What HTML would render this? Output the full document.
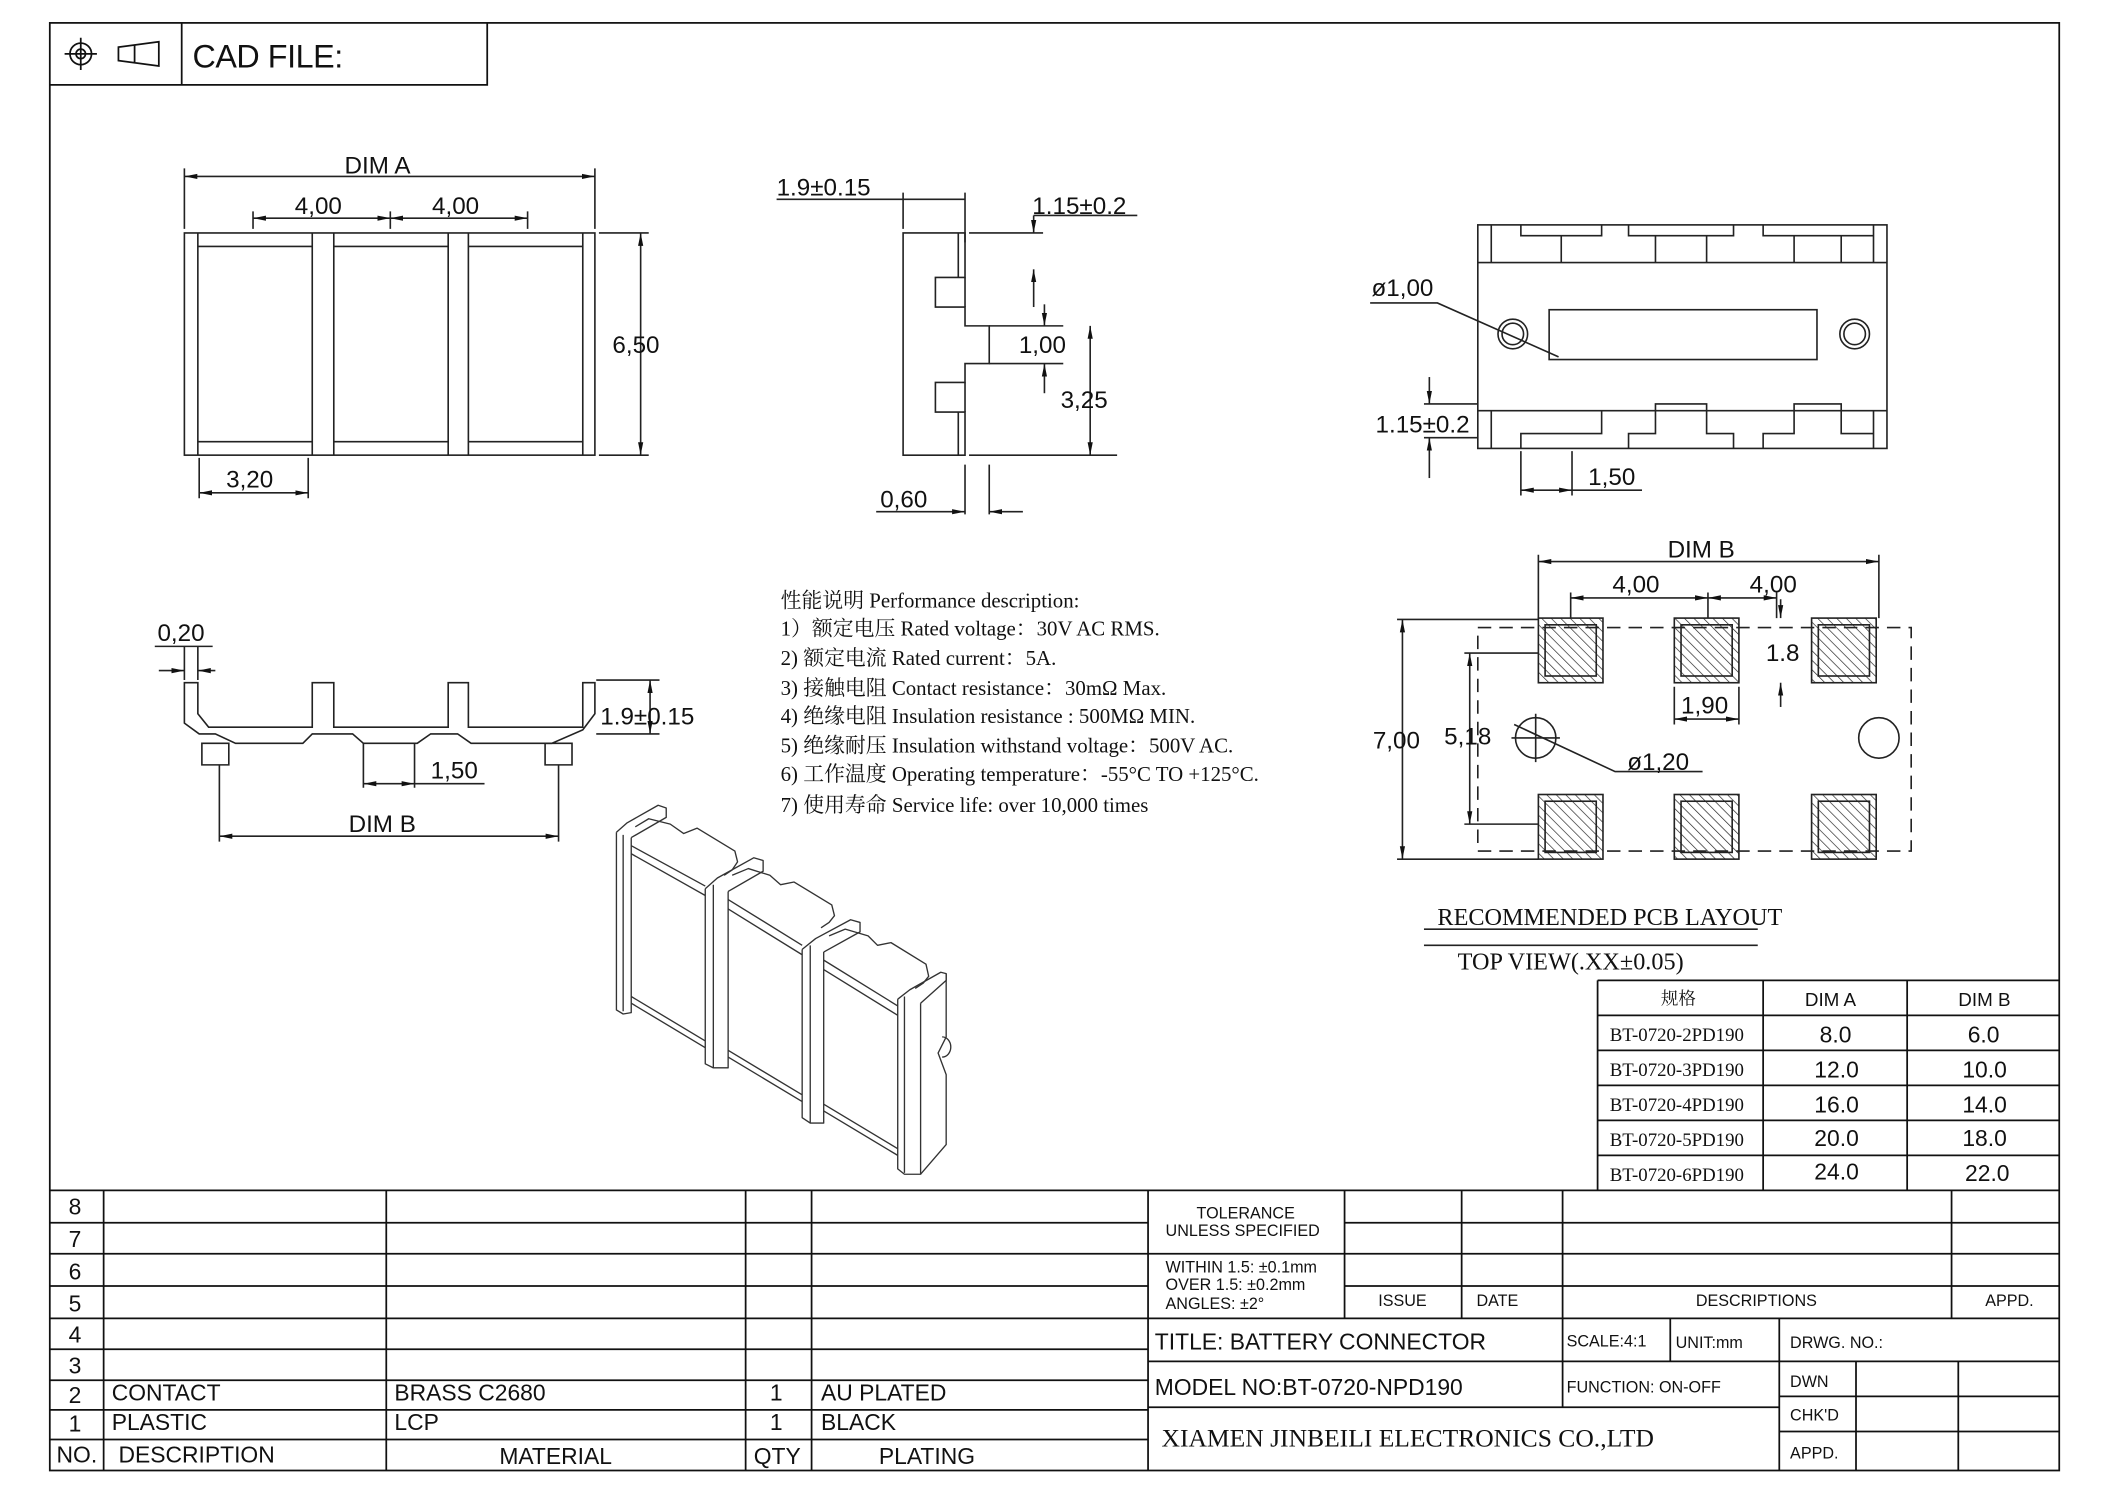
<!DOCTYPE html>
<html><head><meta charset="utf-8"><style>
html,body{margin:0;padding:0;background:#fff}
svg{display:block}
text{font-family:"Liberation Sans","Noto Sans CJK SC",sans-serif;fill:#111}
.s{font-family:"Liberation Serif","Noto Serif CJK SC","Noto Sans CJK SC",serif}
</style></head><body>
<svg width="2105" height="1488" viewBox="0 0 1564 1105" preserveAspectRatio="none" xmlns="http://www.w3.org/2000/svg">
<defs>
<pattern id="h" width="5" height="5" patternUnits="userSpaceOnUse" patternTransform="rotate(-45)"><line x1="0" y1="0" x2="0" y2="5" stroke="#222" stroke-width="1"/></pattern>
<marker id="a" viewBox="0 0 10 10" refX="10" refY="5" markerWidth="8" markerHeight="8" orient="auto-start-reverse"><path d="M0,3 L10,5 L0,7z" fill="#111"/></marker>
</defs>
<g fill="none" stroke="#111" stroke-width="1.3">
<rect x="37" y="17" width="1493" height="1075"/>
<path d="M37 63H362V17M135 17V63"/>
<circle cx="60" cy="40" r="8"/><circle cx="60" cy="40" r="3.5"/><path d="M48 40H72M60 28V52"/>
<path d="M88 35L118 31V49L88 45Z M100 33V47"/>
</g>
<text x="143" y="50" font-size="24" textLength="112">CAD FILE:</text>

<!-- Top-left view -->
<g fill="none" stroke="#222" stroke-width="1.2">
<rect x="137" y="173" width="305" height="165"/>
<path d="M147 173V338M232 173V338M248 173V338M333 173V338M348 173V338M433 173V338"/>
<path d="M147 183H232M248 183H333M348 183H433M147 328H232M248 328H333M348 328H433"/>
<path d="M137 125V170M442 125V170M188 157V170M290 157V170M392 157V170M445 173H482M445 338H482M148 340V370M229 340V370"/>
<path d="M137 131H442" marker-start="url(#a)" marker-end="url(#a)"/>
<path d="M188 162H290" marker-start="url(#a)" marker-end="url(#a)"/>
<path d="M290 162H392" marker-start="url(#a)" marker-end="url(#a)"/>
<path d="M476 173V338" marker-start="url(#a)" marker-end="url(#a)"/>
<path d="M148 366H229" marker-start="url(#a)" marker-end="url(#a)"/>
</g>
<text x="256" y="129" font-size="18">DIM A</text>
<text x="219" y="159" font-size="18">4,00</text><text x="321" y="159" font-size="18">4,00</text>
<text x="455" y="262" font-size="18">6,50</text><text x="168" y="362" font-size="18">3,20</text>

<!-- Side view -->
<g fill="none" stroke="#222" stroke-width="1.2">
<path d="M671 173H717V206H695V228H717V242H735V270H717V284H695V306H717V338H671Z"/>
<path d="M712 173V206M712 306V338M717 206V228M717 284V306"/>
<path d="M671 143V170M717 143V180M720 173H775M735 242H790M735 270H790M720 338H830M717 345V382M735 345V382"/>
<path d="M577 148H717"/>
<path d="M768 160V173" marker-end="url(#a)"/><path d="M768 200V228" marker-start="url(#a)"/>
<path d="M768 160H845"/>
<path d="M776 226V242" marker-end="url(#a)"/><path d="M776 270V292" marker-start="url(#a)"/>
<path d="M810 242V338" marker-start="url(#a)" marker-end="url(#a)"/>
<path d="M651 380H717" marker-end="url(#a)"/><path d="M735 380H760" marker-start="url(#a)"/>
</g>
<text x="577" y="145" font-size="18">1.9±0.15</text>
<text x="767" y="159" font-size="18">1.15±0.2</text>
<text x="757" y="262" font-size="18">1,00</text>
<text x="788" y="303" font-size="18">3,25</text>
<text x="654" y="377" font-size="18">0,60</text>

<!-- Top-right view -->
<g fill="none" stroke="#222" stroke-width="1.2">
<rect x="1098" y="167" width="304" height="166"/>
<path d="M1098 195H1402M1098 305H1402"/>
<path d="M1108 167V195M1392 167V195M1108 305V333M1392 305V333"/>
<path d="M1130 167V175H1160V195M1160 175H1190V167M1210 167V175H1230V195M1230 175H1268V195M1268 175H1288V167M1310 167V175H1333V195M1333 175H1368V195M1368 175H1392"/>
<path d="M1130 333V322H1190V305M1210 333V322H1230V300H1268V322H1288V333M1310 333V322H1333V300H1368V322H1392"/>
<rect x="1151" y="230" width="199" height="37"/>
<circle cx="1124" cy="248" r="11"/><circle cx="1124" cy="248" r="8"/>
<circle cx="1378" cy="248" r="11"/><circle cx="1378" cy="248" r="8"/>
<path d="M1018 225H1068L1158 265"/>
<path d="M1058 300H1098M1058 325H1098M1130 335V368M1168 335V368"/>
<path d="M1062 280V300" marker-end="url(#a)"/><path d="M1062 325V355" marker-start="url(#a)"/>
<path d="M1130 364H1168" marker-start="url(#a)" marker-end="url(#a)"/>
<path d="M1168 364H1220"/>
</g>
<text x="1019" y="220" font-size="18">ø1,00</text>
<text x="1022" y="321" font-size="18">1.15±0.2</text>
<text x="1180" y="360" font-size="18">1,50</text>

<!-- Bottom-left side view -->
<g fill="none" stroke="#222" stroke-width="1.2">
<path d="M137 507H147V530L155 540H232V507H248V540H333V507H348V540H433V507H442V530L433 542L410 552H350L340 545H320L310 552H270L262 545H232L225 552H175L160 545H148L137 537Z"/>
<path d="M150 552H170V568H150ZM405 552H425V568H405Z"/>
<path d="M137 480V505M147 480V505M443 505H490M443 545H490"/>
<path d="M118 498H137" marker-end="url(#a)"/><path d="M147 498H160" marker-start="url(#a)"/><path d="M115 480H158"/>
<path d="M483 505V545" marker-start="url(#a)" marker-end="url(#a)"/>
<path d="M270 552V585M308 552V585M163 568V625M415 568V625"/>
<path d="M270 582H308" marker-start="url(#a)" marker-end="url(#a)"/><path d="M308 582H360"/>
<path d="M163 621H415" marker-start="url(#a)" marker-end="url(#a)"/>
</g>
<text x="117" y="476" font-size="18">0,20</text>
<text x="446" y="538" font-size="18">1.9±0.15</text>
<text x="320" y="578" font-size="18">1,50</text>
<text x="259" y="618" font-size="18">DIM B</text>

<!-- Performance text -->
<g font-size="15.5">
<text class="s" x="580" y="451">性能说明  Performance description:</text>
<text class="s" x="580" y="472">1）额定电压  Rated voltage：30V AC RMS.</text>
<text class="s" x="580" y="494">2) 额定电流  Rated current：5A.</text>
<text class="s" x="580" y="516">3) 接触电阻  Contact resistance：30mΩ Max.</text>
<text class="s" x="580" y="537">4) 绝缘电阻  Insulation resistance : 500MΩ MIN.</text>
<text class="s" x="580" y="559">5) 绝缘耐压  Insulation withstand voltage：500V AC.</text>
<text class="s" x="580" y="580">6) 工作温度  Operating temperature：-55°C TO +125°C.</text>
<text class="s" x="580" y="603">7) 使用寿命  Service life: over 10,000 times</text>
</g>

<!-- 3D view -->
<g fill="none" stroke="#333" stroke-width="1" stroke-linejoin="round">
<path d="M458 618L458 750L463 753L469 752L469 622"/><path d="M463 620V751"/>
<path d="M458 618L466 611L489 598L495 600L495 607L469 622"/>
<path d="M469 628L524 658M469 634L524 665M469 745L524 778M469 740L524 773"/>
<path d="M472 614L482 608L498 612L508 619L518 615L546 632L548 640L544 646L538 650"/>
<path d="M524 660L524 790L530 793L541 793L541 662"/><path d="M530 657V793"/>
<path d="M524 660L533 652L560 637L567 639L567 647L541 662"/>
<path d="M541 668L596 702M541 675L596 709M541 785L596 818M541 780L596 813"/>
<path d="M544 650L556 645L572 650L580 657L590 655L618 672L620 680L616 685L610 689"/>
<path d="M596 705L596 830L602 834L612 834L612 707"/><path d="M602 702V834"/>
<path d="M596 705L606 697L632 683L639 685L639 692L612 707"/>
<path d="M612 713L667 747M612 720L667 754M612 825L667 858M612 820L667 853"/>
<path d="M616 695L628 690L645 695L652 702L662 700L688 716L690 725L686 730L680 734"/>
<path d="M667 742L667 868L672 872L684 872L684 745"/><path d="M672 740V871"/>
<path d="M667 742L676 735L699 722L703 723L703 728L684 745"/>
<path d="M703 723L703 770L697 782L703 798L703 850L684 872"/>
<path d="M700 770A6 7 0 0 1 700 785"/>
</g>

<!-- PCB layout -->
<g fill="none" stroke="#222" stroke-width="1.2">
<rect x="1098" y="466" width="322" height="166" stroke-dasharray="10,6"/>
<g fill="url(#h)" stroke="#222">
<rect x="1143" y="459" width="48" height="48"/><rect x="1244" y="459" width="48" height="48"/><rect x="1346" y="459" width="48" height="48"/>
<rect x="1143" y="590" width="48" height="48"/><rect x="1244" y="590" width="48" height="48"/><rect x="1346" y="590" width="48" height="48"/>
</g>
<rect x="1148" y="464" width="38" height="38"/><rect x="1249" y="464" width="38" height="38"/><rect x="1351" y="464" width="38" height="38"/>
<rect x="1148" y="595" width="38" height="38"/><rect x="1249" y="595" width="38" height="38"/><rect x="1351" y="595" width="38" height="38"/>
<circle cx="1141" cy="548" r="15"/><circle cx="1396" cy="548" r="15"/>
<path d="M1141 530V566M1123 548H1159"/>
<path d="M1143 412V459M1396 412V459M1167 440V459M1269 440V459M1320 440V459"/>
<path d="M1143 417H1396" marker-start="url(#a)" marker-end="url(#a)"/>
<path d="M1167 444H1269" marker-start="url(#a)" marker-end="url(#a)"/>
<path d="M1269 444H1320" marker-start="url(#a)" marker-end="url(#a)"/>
<path d="M1038 460H1143M1038 638H1143M1088 485H1143M1088 612H1143"/>
<path d="M1042 460V638" marker-start="url(#a)" marker-end="url(#a)"/>
<path d="M1092 485V612" marker-start="url(#a)" marker-end="url(#a)"/>
<path d="M1323 445V459" marker-end="url(#a)"/><path d="M1323 507V525" marker-start="url(#a)"/>
<path d="M1244 510V538M1292 510V538"/>
<path d="M1244 534H1292" marker-start="url(#a)" marker-end="url(#a)"/>
<path d="M1125 538L1200 573H1265"/>
<path d="M1058 690H1306M1058 702H1306"/>
</g>
<text x="1239" y="414" font-size="18">DIM B</text>
<text x="1198" y="440" font-size="18">4,00</text><text x="1300" y="440" font-size="18">4,00</text>
<text x="1312" y="491" font-size="18">1.8</text>
<text x="1249" y="530" font-size="18">1,90</text>
<text x="1020" y="556" font-size="18">7,00</text><text x="1073" y="553" font-size="18">5,18</text>
<text x="1209" y="572" font-size="18">ø1,20</text>
<text class="s" x="1068" y="687" font-size="18">RECOMMENDED PCB LAYOUT</text>
<text class="s" x="1083" y="720" font-size="18">TOP VIEW(.XX±0.05)</text>

<!-- Parts table -->
<g fill="none" stroke="#111" stroke-width="1.3">
<path d="M1187 728H1530M1187 754H1530M1187 780H1530M1187 806H1530M1187 832H1530M1187 858H1530"/>
<path d="M1187 728V884M1310 728V884M1417 728V884"/>
</g>
<text class="s" x="1234" y="746" font-size="13">规格</text>
<text x="1341" y="747" font-size="14">DIM A</text><text x="1455" y="747" font-size="14">DIM B</text>
<g font-size="14"><text class="s" x="1196" y="773">BT-0720-2PD190</text><text class="s" x="1196" y="799">BT-0720-3PD190</text><text class="s" x="1196" y="825">BT-0720-4PD190</text><text class="s" x="1196" y="851">BT-0720-5PD190</text><text class="s" x="1196" y="877">BT-0720-6PD190</text></g>
<g font-size="17"><text x="1352" y="774">8.0</text><text x="1348" y="800">12.0</text><text x="1348" y="826">16.0</text><text x="1348" y="851">20.0</text><text x="1348" y="876">24.0</text>
<text x="1462" y="774">6.0</text><text x="1458" y="800">10.0</text><text x="1458" y="826">14.0</text><text x="1458" y="851">18.0</text><text x="1460" y="877">22.0</text></g>

<!-- Bottom table -->
<g fill="none" stroke="#111" stroke-width="1.3">
<path d="M37 884H1530"/>
<path d="M37 908H853M37 931H853M37 955H853M37 979H853M37 1002H853M37 1025H853M37 1047H853M37 1069H853"/>
<path d="M77 884V1092M287 884V1092M554 884V1092M603 884V1092M853 884V1092"/>
<path d="M999 908H1530M853 931H1530M999 955H1530M853 979H1530M853 1011H1530M853 1045H1322M1322 1037H1530M1322 1063H1530"/>
<path d="M999 884V979M1086 884V979M1161 884V1045M1450 884V979M1241 979V1011M1322 979V1092M1379 1011V1092M1455 1011V1092"/>
</g>
<g font-size="17">
<text x="51" y="902">8</text><text x="51" y="926">7</text><text x="51" y="950">6</text><text x="51" y="974">5</text><text x="51" y="997">4</text><text x="51" y="1020">3</text><text x="51" y="1042">2</text><text x="51" y="1063">1</text>
<text x="83" y="1040">CONTACT</text><text x="83" y="1062">PLASTIC</text>
<text x="293" y="1040">BRASS C2680</text><text x="293" y="1062">LCP</text>
<text x="572" y="1040">1</text><text x="572" y="1062">1</text>
<text x="610" y="1040">AU PLATED</text><text x="610" y="1062">BLACK</text>
<text x="42" y="1086">NO.</text><text x="88" y="1086">DESCRIPTION</text><text x="371" y="1087">MATERIAL</text><text x="560" y="1087">QTY</text><text x="653" y="1087">PLATING</text>
</g>
<g font-size="12">
<text x="889" y="905">TOLERANCE</text><text x="866" y="918">UNLESS SPECIFIED</text>
<text x="866" y="945">WITHIN 1.5: ±0.1mm</text><text x="866" y="958">OVER 1.5:  ±0.2mm</text><text x="866" y="972">ANGLES: ±2°</text>
<text x="1024" y="970">ISSUE</text><text x="1097" y="970">DATE</text><text x="1260" y="970">DESCRIPTIONS</text><text x="1475" y="970">APPD.</text>
<text x="1164" y="1000">SCALE:4:1</text><text x="1245" y="1001">UNIT:mm</text><text x="1330" y="1001">DRWG. NO.:</text>
<text x="1164" y="1034">FUNCTION: ON-OFF</text>
<text x="1330" y="1030">DWN</text><text x="1330" y="1055">CHK'D</text><text x="1330" y="1083">APPD.</text>
</g>
<text x="858" y="1002" font-size="17">TITLE:  BATTERY CONNECTOR</text>
<text x="858" y="1036" font-size="17">MODEL NO:BT-0720-NPD190</text>
<text class="s" x="863" y="1074" font-size="19">XIAMEN JINBEILI ELECTRONICS CO.,LTD</text>
</svg>
</body></html>
